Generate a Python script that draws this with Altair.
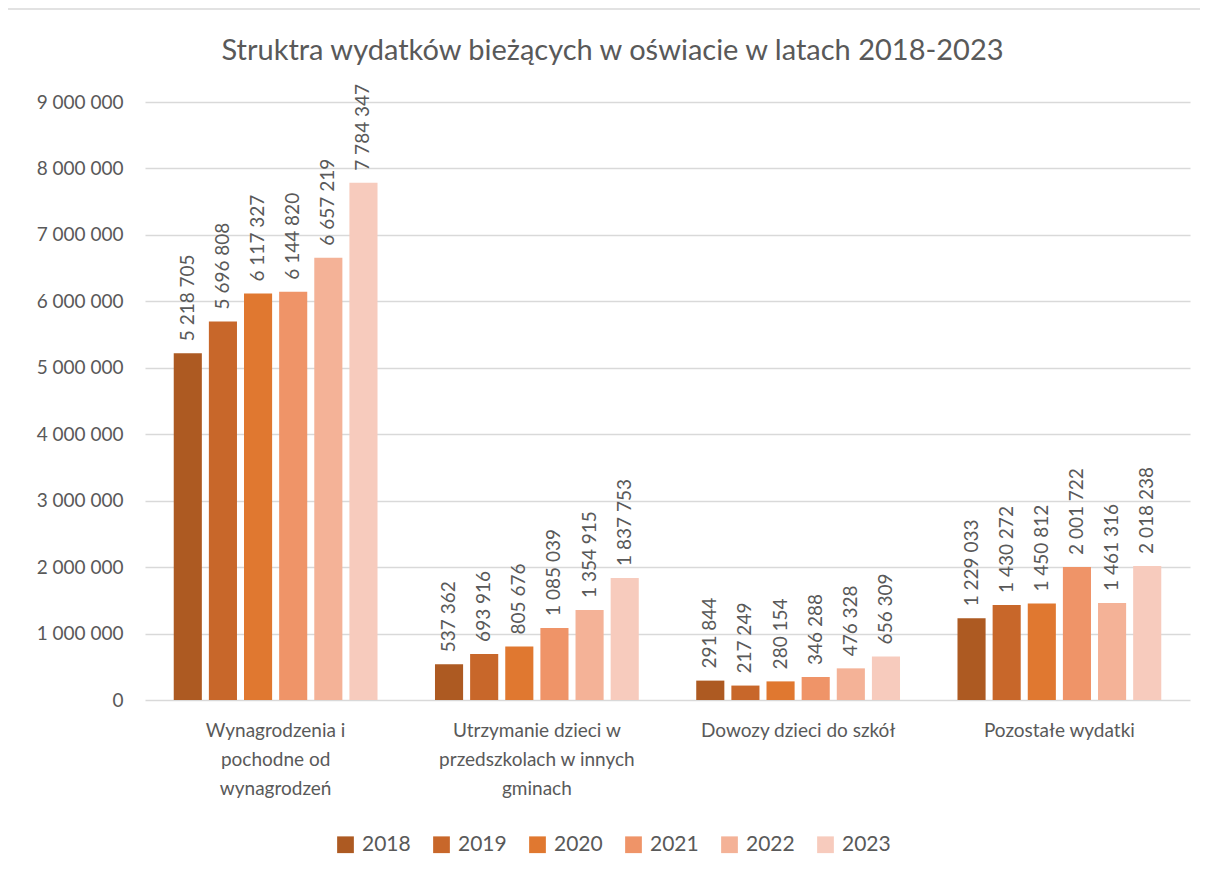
import altair as alt
import pandas as pd

categories = [
    "Wynagrodzenia i|pochodne od|wynagrodzeń",
    "Utrzymanie dzieci w|przedszkolach w innych|gminach",
    "Dowozy dzieci do szkół",
    "Pozostałe wydatki",
]
years = ["2018", "2019", "2020", "2021", "2022", "2023"]
values = {
    "2018": [5218705, 537362, 291844, 1229033],
    "2019": [5696808, 693916, 217249, 1430272],
    "2020": [6117327, 805676, 280154, 1450812],
    "2021": [6144820, 1085039, 346288, 2001722],
    "2022": [6657219, 1354915, 476328, 1461316],
    "2023": [7784347, 1837753, 656309, 2018238],
}
colors = ["#ad5a22", "#c8672a", "#e07830", "#ef9468", "#f4b297", "#f7cbbd"]

rows = []
for y in years:
    for c, v in zip(categories, values[y]):
        rows.append({"cat": c, "year": y, "value": v,
                     "label": f"{v:,}".replace(",", " ")})
df = pd.DataFrame(rows)

FONT = "Lato"
TXT = "#595959"

base = alt.Chart(df).encode(
    x=alt.X("cat:N", sort=categories, title=None,
            scale=alt.Scale(paddingInner=0.22, paddingOuter=0.11),
            axis=alt.Axis(labelAngle=0, labelExpr="split(datum.label, '|')",
                          labelFontSize=19, labelLineHeight=29, labelPadding=21,
                          labelLimit=400,
                          ticks=False, domain=False, labelColor=TXT, labelFont=FONT)),
    xOffset=alt.XOffset("year:N", sort=years, scale=alt.Scale(paddingInner=0.2)),
    y=alt.Y("value:Q", title=None,
            scale=alt.Scale(domain=[0, 9000000], nice=False),
            axis=alt.Axis(values=list(range(0, 9000001, 1000000)),
                          labelExpr="datum.value == 0 ? '0' : format(datum.value/1000000, 'd') + ' 000 000'",
                          labelFontSize=19, labelPadding=22, ticks=False, domain=False,
                          gridColor="#d9d9d9", gridWidth=1.5, labelColor=TXT, labelFont=FONT)),
)

bars = base.mark_bar().encode(
    color=alt.Color("year:N", sort=years, scale=alt.Scale(domain=years, range=colors),
                    legend=alt.Legend(title=None, orient="none", direction="horizontal",
                                      legendX=190, legendY=732, symbolType="square",
                                      symbolSize=280, labelFontSize=21, labelColor=TXT,
                                      labelFont=FONT, columnPadding=20, symbolStrokeWidth=0,
                                      labelOffset=6)),
)

labels = base.mark_text(angle=270, align="left", baseline="middle", dx=12,
                        fontSize=19, color=TXT, font=FONT).encode(text="label:N")

frame = alt.Chart(pd.DataFrame({"k": [0]})).mark_rect(
    filled=False, stroke="#d9d9d9", strokeWidth=1.5
).encode(x=alt.value(-141), x2=alt.value(1100), y=alt.value(-93), y2=alt.value(800))

chart = (frame + bars + labels).properties(
    width=1045, height=598,
    title=alt.Title("Struktra wydatków bieżących w oświacie w latach 2018-2023",
                    fontSize=29, font=FONT, color=TXT, fontWeight="normal",
                    anchor="middle", frame="group", offset=-58, dx=-55),
    padding={"left": 137, "top": 94, "right": 10, "bottom": 160},
    autosize=alt.AutoSizeParams(type="none"),
).configure(background="white").configure_view(stroke=None)

chart.save("out.html", embed_options={"renderer": "svg", "actions": False})
